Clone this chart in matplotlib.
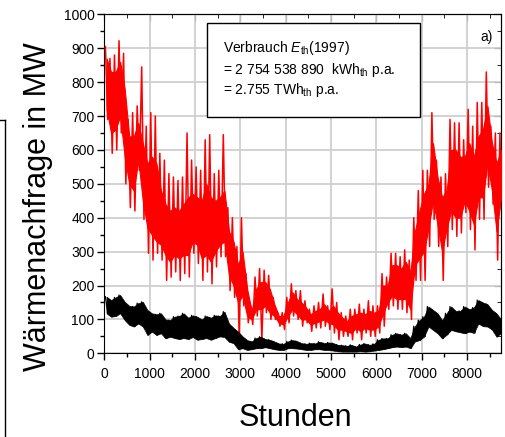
import numpy as np
import matplotlib
matplotlib.use("Agg")
import matplotlib.pyplot as plt
from matplotlib.lines import Line2D
from matplotlib.patches import Rectangle
from matplotlib.ticker import MultipleLocator

plt.rcParams['font.family'] = ['Liberation Sans', 'DejaVu Sans']
plt.rcParams['mathtext.fontset'] = 'custom'
plt.rcParams['mathtext.rm'] = 'Liberation Sans'
plt.rcParams['mathtext.it'] = 'Liberation Sans:italic'

# 100-hour bins (MW)
bin_start = np.arange(0, 8760, 100)

# red: extreme spikes per bin
red_hi = [905, 870, 880, 922, 885, 690, 710, 730, 845, 670,
          710, 700, 590, 570, 530, 520, 510, 520, 650, 570,
          550, 540, 630, 645, 530, 540, 645, 430, 400, 315,
          400, 235, 140, 225, 250, 245, 230, 165, 120, 120,
          165, 205, 185, 185, 155, 130, 140, 150, 175, 140,
          190, 150, 120, 110, 130, 130, 145, 130, 155, 140,
          140, 235, 225, 295, 295, 285, 305, 275, 400, 480,
          540, 540, 710, 570, 520, 530, 690, 680, 680, 630,
          720, 670, 740, 740, 830, 670, 650, 650]
red_lo = [690, 590, 600, 650, 500, 430, 420, 540, 395, 295,
          275, 295, 275, 215, 225, 240, 215, 235, 225, 295,
          265, 215, 240, 205, 255, 285, 285, 185, 165, 50,
          140, 90, 85, 110, 40, 120, 100, 100, 80, 70,
          90, 110, 100, 80, 90, 65, 75, 75, 80, 70,
          60, 40, 50, 50, 40, 60, 40, 60, 50, 50,
          60, 80, 130, 140, 130, 130, 120, 100, 215, 215,
          215, 315, 395, 315, 215, 315, 365, 345, 355, 415,
          365, 305, 395, 395, 490, 440, 275, 425]

# red: dense core of the band per bin
red_core_hi = [870, 830, 830, 860, 780, 640, 640, 680, 620, 560,
               580, 560, 480, 440, 420, 430, 420, 440, 460, 470,
               460, 450, 500, 460, 450, 460, 480, 360, 330, 260,
               300, 190, 125, 190, 210, 210, 190, 145, 110, 110,
               150, 180, 160, 150, 135, 115, 125, 130, 145, 125,
               140, 120, 105, 95, 110, 115, 120, 115, 125, 120,
               125, 200, 200, 260, 260, 250, 270, 240, 360, 420,
               470, 500, 620, 520, 460, 480, 600, 600, 580, 580,
               620, 580, 640, 660, 730, 620, 560, 600]
red_core_lo = [720, 650, 660, 700, 580, 500, 480, 570, 450, 370,
               350, 330, 320, 290, 270, 290, 280, 290, 290, 330,
               320, 280, 290, 270, 300, 320, 330, 230, 200, 150,
               170, 110, 100, 130, 130, 140, 120, 110, 90, 85,
               110, 130, 115, 100, 100, 85, 90, 95, 100, 90,
               85, 70, 70, 65, 60, 75, 65, 75, 70, 70,
               80, 120, 150, 170, 160, 160, 160, 130, 260, 280,
               300, 370, 450, 380, 300, 370, 420, 400, 400, 450,
               420, 380, 460, 460, 560, 480, 360, 460]

# black: lowest / highest per bin
black_hi = [167, 157, 165, 172, 152, 140, 138, 148, 152, 128,
            118, 115, 118, 100, 98, 108, 110, 118, 105, 112,
            108, 100, 110, 105, 112, 110, 123, 88, 75, 64,
            50, 39, 35, 45, 49, 42, 40, 35, 29, 28,
            35, 39, 36, 30, 28, 30, 29, 34, 30, 32,
            30, 25, 24, 22, 25, 20, 26, 29, 25, 28,
            40, 44, 44, 55, 59, 55, 59, 45, 80, 98,
            108, 138, 128, 118, 98, 118, 138, 125, 125, 138,
            130, 135, 157, 150, 145, 128, 118, 100]
black_lo = [118, 108, 110, 118, 98, 84, 79, 88, 79, 54,
            64, 54, 59, 44, 49, 45, 42, 45, 42, 48,
            40, 42, 45, 40, 45, 50, 48, 34, 30, 12,
            15, 10, 12, 15, 15, 18, 15, 12, 10, 10,
            15, 15, 14, 12, 10, 10, 12, 12, 10, 10,
            8, 6, 5, 5, 5, 5, 6, 5, 6, 8,
            10, 12, 15, 18, 20, 18, 20, 15, 35, 39,
            49, 79, 69, 59, 44, 55, 69, 65, 62, 59,
            64, 60, 88, 80, 79, 70, 49, 60]


def zigzag(lo, hi):
    # one stroke up to the bin high and down to the bin low per 100 h
    x = np.empty(2 * len(bin_start))
    y = np.empty(2 * len(bin_start))
    x[0::2] = bin_start + 25
    x[1::2] = np.minimum(bin_start + 75, 8759)
    y[0::2] = hi
    y[1::2] = lo
    return x, y


mid = np.minimum(bin_start + 50, 8759)

fig = plt.figure(figsize=(5.06, 4.37), dpi=100)
ax = fig.add_axes([0.2061, 0.1915, 0.785, 0.7757])

xr, yr = zigzag(red_lo, red_hi)
ax.fill_between(mid, red_core_lo, red_core_hi, color='#ff0000', lw=0.8, zorder=3)
ax.plot(xr, yr, color='#ff0000', lw=1.1, zorder=3)

xb, yb = zigzag(black_lo, black_hi)
ax.fill_between(mid, black_lo, black_hi, color='black', lw=0.5, zorder=4)
ax.plot(xb, yb, color='black', lw=0.9, zorder=4)

ax.set_xlim(0, 8760)
ax.set_ylim(0, 1000)
ax.xaxis.set_major_locator(MultipleLocator(1000))
ax.xaxis.set_minor_locator(MultipleLocator(500))
ax.yaxis.set_major_locator(MultipleLocator(100))
ax.yaxis.set_minor_locator(MultipleLocator(50))
ax.grid(True, which='major', color='#cfcfcf', lw=1.3, zorder=0)
ax.set_axisbelow(True)
ax.tick_params(which='major', direction='out', length=5, width=1, labelsize=10,
               pad=2, top=False, right=False)
ax.tick_params(which='minor', direction='out', length=3, width=1, top=False, right=False)
ax.tick_params(axis='x', which='major', pad=5)

top = ax.secondary_xaxis('top')
top.xaxis.set_major_locator(MultipleLocator(1000))
top.xaxis.set_minor_locator(MultipleLocator(500))
top.tick_params(which='both', direction='in', labeltop=False)
top.tick_params(which='major', length=5)
top.tick_params(which='minor', length=3)

right = ax.secondary_yaxis('right')
right.yaxis.set_major_locator(MultipleLocator(100))
right.yaxis.set_minor_locator(MultipleLocator(50))
right.tick_params(which='both', direction='in', labelright=False)
right.tick_params(which='major', length=5)
right.tick_params(which='minor', length=3)

# info box
ax.add_patch(Rectangle((0.258, 0.697), 0.537, 0.276, transform=ax.transAxes,
                       facecolor='white', edgecolor='black', lw=1.0, zorder=5))
ax.text(0.298, 0.901, r'Verbrauch $E_{\mathrm{th}}$(1997)', transform=ax.transAxes,
        fontsize=10, va='center', zorder=6)
ax.text(0.298, 0.836, r'= 2 754 538 890  kWh$_{\mathrm{th}}$ p.a.', transform=ax.transAxes,
        fontsize=10, va='center', zorder=6)
ax.text(0.298, 0.777, r'= 2.755 TWh$_{\mathrm{th}}$ p.a.', transform=ax.transAxes,
        fontsize=10, va='center', zorder=6)
ax.text(0.963, 0.933, 'a)', transform=ax.transAxes, fontsize=10,
        ha='center', va='center', zorder=6)

fig.text(295 / 506, 1 - 426 / 437, 'Stunden', fontsize=22, ha='center', va='baseline')
fig.text(38 / 506, 1 - 207 / 437, 'Wärmenachfrage in MW', fontsize=22,
         rotation=90, ha='center', va='center')

# partial frame at the left edge
fig.add_artist(Line2D([4.5 / 506, 4.5 / 506], [0, 1 - 120 / 437], color='black', lw=1.0))
fig.add_artist(Line2D([0, 4.5 / 506], [1 - 120 / 437, 1 - 120 / 437], color='black', lw=1.0))

fig.savefig('out.png', dpi=100)
